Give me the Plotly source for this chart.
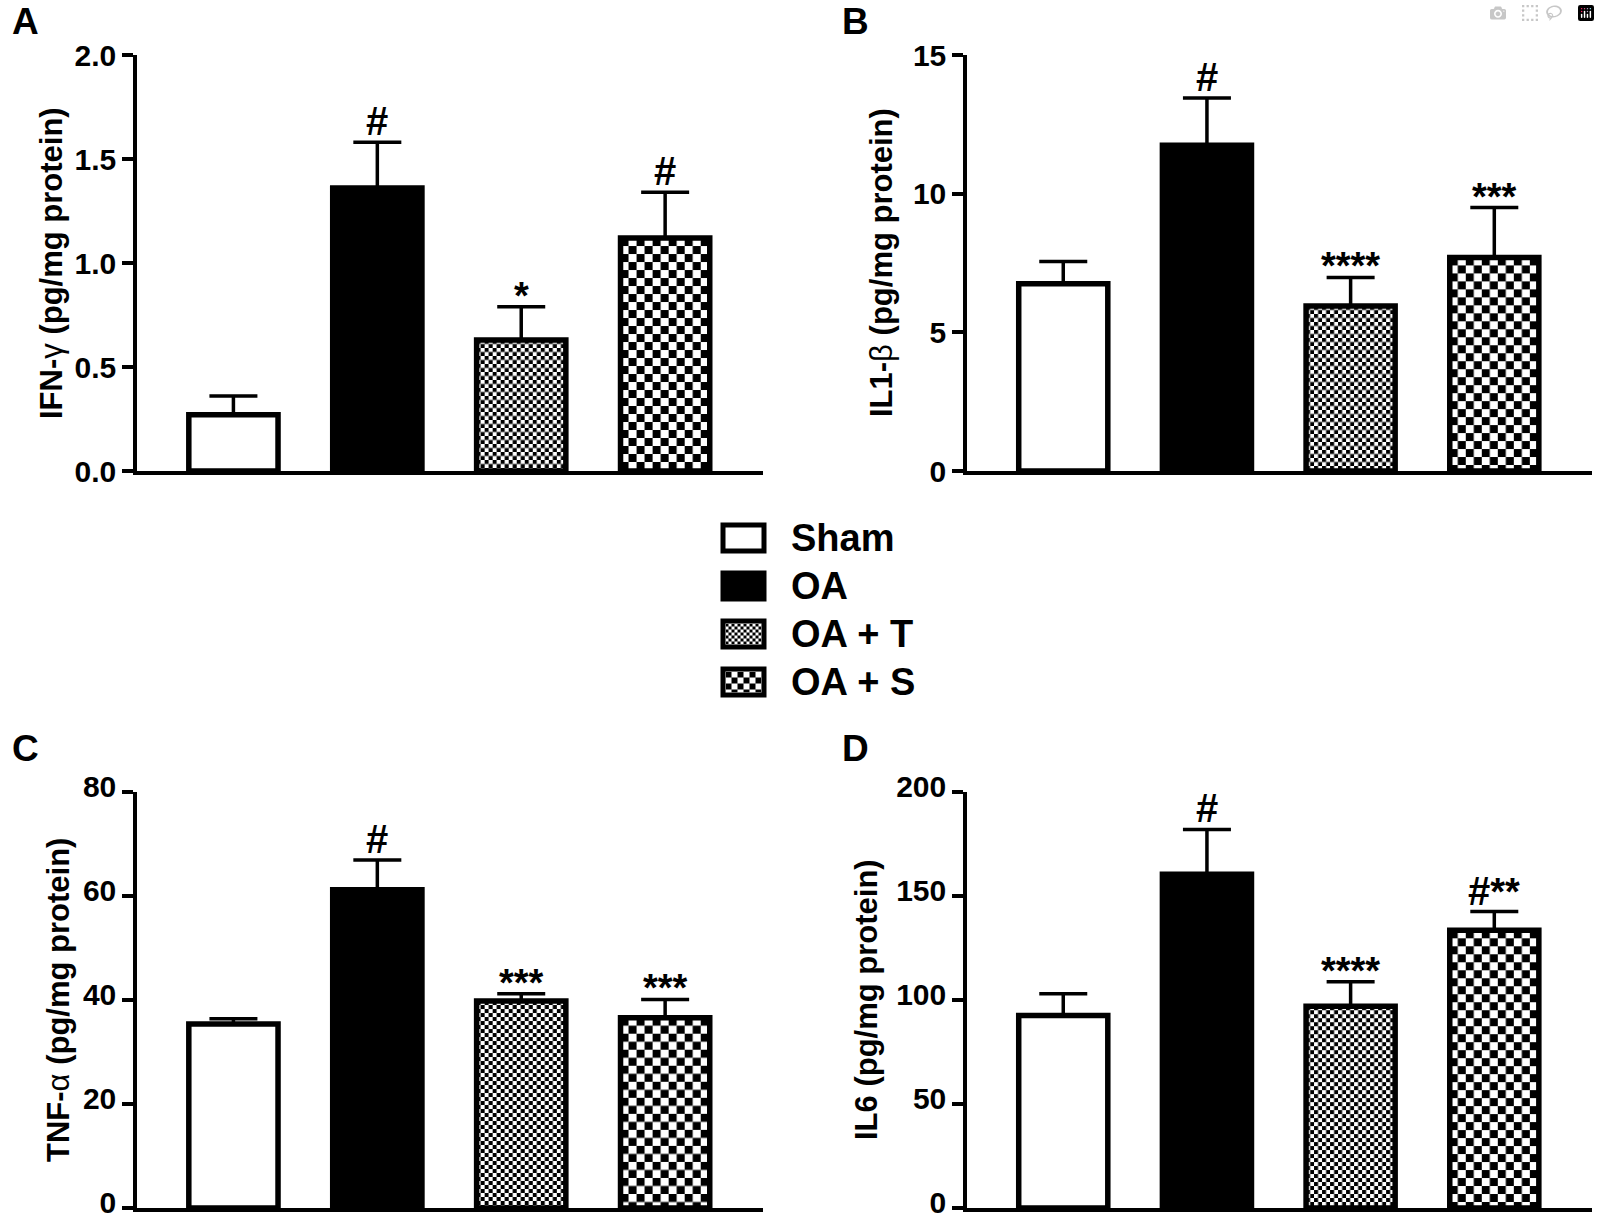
import base64
import plotly.graph_objects as go

# ---------------- data ----------------
groups = ["Sham", "OA", "OA + T", "OA + S"]

ifn_mean = [0.27, 1.36, 0.63, 1.12]
ifn_sem = [0.09, 0.22, 0.16, 0.22]
ifn_sig = ["", "#", "*", "#"]

il1_mean = [6.75, 11.75, 5.95, 7.70]
il1_sem = [0.80, 1.70, 1.03, 1.80]
il1_sig = ["", "#", "****", "***"]

tnf_mean = [35.4, 61.2, 39.8, 36.6]
tnf_sem = [1.0, 5.7, 1.4, 3.5]
tnf_sig = ["", "#", "***", "***"]

il6_mean = [92.5, 160.5, 97.0, 133.5]
il6_sem = [10.5, 21.5, 11.8, 9.0]
il6_sig = ["", "#", "****", "#**"]

ifn_ticks = [0.0, 0.5, 1.0, 1.5, 2.0]
il1_ticks = [0, 5, 10, 15]
tnf_ticks = [0, 20, 40, 60, 80]
il6_ticks = [0, 50, 100, 150, 200]

# ---------------- styles / layout ----------------
W, H = 1600, 1222
FONT = "Liberation Sans"
XR = [-0.67, 3.68]
BAR_W = 0.62
LEFT_PX = (137, 763)
RIGHT_PX = (967, 1592)
TOP_PX = (55, 471)      # (top, bottom) in pixels from top
BOT_PX = (792, 1208)
fills = ["white", "black", "rgba(0,0,0,0)", "rgba(0,0,0,0)"]
checker_sq = [None, None, 4, 8]
HASH_SIZE = 40
STAR_SIZE = 38

def xdom(px):
    return [px[0] / W, px[1] / W]

def ydom(px):
    return [1 - px[1] / H, 1 - px[0] / H]

def checker_uri(wpx, hpx, sq):
    wpx = max(int(round(wpx)), 1)
    hpx = max(int(round(hpx)), 1)
    s2 = 2 * sq
    svg = (
        f'<svg xmlns="http://www.w3.org/2000/svg" width="{wpx}" height="{hpx}" '
        f'viewBox="0 0 {wpx} {hpx}" preserveAspectRatio="none">'
        f'<defs><pattern id="p" width="{s2}" height="{s2}" patternUnits="userSpaceOnUse">'
        f'<rect width="{s2}" height="{s2}" fill="white"/>'
        f'<rect width="{sq}" height="{sq}" fill="black"/>'
        f'<rect x="{sq}" y="{sq}" width="{sq}" height="{sq}" fill="black"/>'
        f'</pattern></defs><rect width="{wpx}" height="{hpx}" fill="url(#p)"/></svg>'
    )
    return "data:image/svg+xml;base64," + base64.b64encode(svg.encode()).decode()

panels = [
    dict(mean=ifn_mean, sem=ifn_sem, sig=ifn_sig, ticks=ifn_ticks, fmt=".1f",
         title="<b>IFN-</b>γ<b> (pg/mg protein)</b>", xpx=LEFT_PX, ypx=TOP_PX,
         letter="A", title_x=51, letter_up=33, lshift=0),
    dict(mean=il1_mean, sem=il1_sem, sig=il1_sig, ticks=il1_ticks, fmt="d",
         title="<b>IL1-</b>β<b> (pg/mg protein)</b>", xpx=RIGHT_PX, ypx=TOP_PX,
         letter="B", title_x=881, letter_up=33, lshift=0),
    dict(mean=tnf_mean, sem=tnf_sem, sig=tnf_sig, ticks=tnf_ticks, fmt="d",
         title="<b>TNF-</b>α<b> (pg/mg protein)</b>", xpx=LEFT_PX, ypx=BOT_PX,
         letter="C", title_x=58, letter_up=44, lshift=-6),
    dict(mean=il6_mean, sem=il6_sem, sig=il6_sig, ticks=il6_ticks, fmt="d",
         title="<b>IL6 (pg/mg protein)</b>", xpx=RIGHT_PX, ypx=BOT_PX,
         letter="D", title_x=866, letter_up=44, lshift=-6),
]

fig = go.Figure()
annotations = []
images = []
shapes = []

for k, p in enumerate(panels, start=1):
    xa = "x" if k == 1 else f"x{k}"
    ya = "y" if k == 1 else f"y{k}"
    ymax = p["ticks"][-1]
    xs = list(range(len(groups)))
    fig.add_trace(go.Bar(
        x=xs, y=p["mean"], width=BAR_W, xaxis=xa, yaxis=ya, name="",
        marker=dict(color=fills, line=dict(color="black", width=5.5)),
        error_y=dict(type="data", symmetric=False, array=p["sem"],
                     arrayminus=[0] * len(xs), color="black", thickness=3.5, width=24),
        showlegend=False, hoverinfo="skip",
    ))
    # pixel scale for checker fills
    pxx = (p["xpx"][1] - p["xpx"][0]) / (XR[1] - XR[0])
    pxy = (p["ypx"][1] - p["ypx"][0]) / ymax
    for i, sq in enumerate(checker_sq):
        if sq is None:
            continue
        images.append(dict(
            source=checker_uri(BAR_W * pxx, p["mean"][i] * pxy, sq),
            xref=xa, yref=ya, x=i - BAR_W / 2, y=p["mean"][i],
            sizex=BAR_W, sizey=p["mean"][i], xanchor="left", yanchor="top",
            sizing="stretch", layer="below",
        ))
    # significance marks
    for i, s in enumerate(p["sig"]):
        if not s:
            continue
        top = p["mean"][i] + p["sem"][i]
        if s.startswith("#"):
            txt = "#" if len(s) == 1 else "#<span style='font-size:%dpx'>%s</span>" % (STAR_SIZE, s[1:])
            annotations.append(dict(x=i, y=top, xref=xa, yref=ya, text=txt, showarrow=False,
                                    yanchor="bottom", yshift=-3,
                                    font=dict(family=FONT, size=HASH_SIZE, color="black", weight="bold")))
        else:
            annotations.append(dict(x=i, y=top, xref=xa, yref=ya, text=s, showarrow=False,
                                    yanchor="bottom", yshift=-12,
                                    font=dict(family=FONT, size=STAR_SIZE, color="black", weight="bold")))
    # axis title
    annotations.append(dict(
        x=p["title_x"] / W, y=sum(ydom(p["ypx"])) / 2, xref="paper", yref="paper",
        text=p["title"], textangle=-90, showarrow=False, xanchor="center", yanchor="middle",
        font=dict(family=FONT, size=31, color="black"),
    ))
    # panel letter
    annotations.append(dict(
        x=(p["xpx"][0] - 112) / W, y=1 - (p["ypx"][0] - p["letter_up"]) / H,
        xref="paper", yref="paper",
        text=p["letter"], showarrow=False, xanchor="center", yanchor="middle",
        font=dict(family=FONT, size=37, color="black", weight="bold"),
    ))
    if p["fmt"] == ".1f":
        ticktext = [f"{t:.1f}" for t in p["ticks"]]
    else:
        ticktext = [f"{t:d}" for t in p["ticks"]]
    fig.update_layout({
        ("xaxis" if k == 1 else f"xaxis{k}"): dict(
            domain=xdom(p["xpx"]), range=XR, anchor=ya, showline=True, linecolor="black",
            linewidth=3.5, ticks="", showticklabels=False, showgrid=False, zeroline=False,
            fixedrange=True, automargin=False),
        ("yaxis" if k == 1 else f"yaxis{k}"): dict(
            domain=ydom(p["ypx"]), range=[0, ymax], anchor=xa, showline=True, linecolor="black",
            linewidth=3.5, ticks="outside", ticklen=11, tickwidth=3.5, tickcolor="black",
            tickvals=p["ticks"], ticktext=ticktext, showgrid=False, zeroline=False,
            tickfont=dict(family=FONT, size=30, color="black", weight="bold"),
            ticklabelshift=p["lshift"],
            ticklabeloverflow="allow", fixedrange=True, automargin=False),
    })

# ---------------- legend (drawn manually) ----------------
LEG_X0, LEG_X1 = 723, 764
LEG_ROWS = [538, 586, 634, 682]
LEG_H = 26
LEG_LW = 5
for i, name in enumerate(groups):
    yc = LEG_ROWS[i]
    y0 = 1 - (yc + LEG_H / 2) / H
    y1 = 1 - (yc - LEG_H / 2) / H
    if checker_sq[i] is not None:
        iw = LEG_X1 - LEG_X0 - LEG_LW
        ih = LEG_H - LEG_LW
        images.append(dict(
            source=checker_uri(iw, ih, checker_sq[i] * 0.75),
            xref="paper", yref="paper", x=(LEG_X0 + LEG_LW / 2) / W,
            y=1 - (yc - ih / 2) / H, sizex=iw / W, sizey=ih / H,
            xanchor="left", yanchor="top", sizing="stretch", layer="above",
        ))
        fillc = "rgba(0,0,0,0)"
    else:
        fillc = fills[i]
    shapes.append(dict(type="rect", xref="paper", yref="paper",
                       x0=LEG_X0 / W, x1=LEG_X1 / W, y0=y0, y1=y1,
                       line=dict(color="black", width=LEG_LW), fillcolor=fillc))
    annotations.append(dict(
        x=789 / W, y=1 - yc / H, xref="paper", yref="paper", text=name, showarrow=False,
        xanchor="left", yanchor="middle",
        font=dict(family=FONT, size=38, color="black", weight="bold"),
    ))

fig.update_layout(
    width=W, height=H, autosize=False,
    margin=dict(l=0, r=0, t=0, b=0, pad=0, autoexpand=False),
    paper_bgcolor="white", plot_bgcolor="rgba(0,0,0,0)",
    showlegend=False, bargap=0.3,
    annotations=annotations, images=images, shapes=shapes,
    font=dict(family=FONT, color="black"),
)

fig.write_html("out.html", post_script="document.body.style.margin='0';")
